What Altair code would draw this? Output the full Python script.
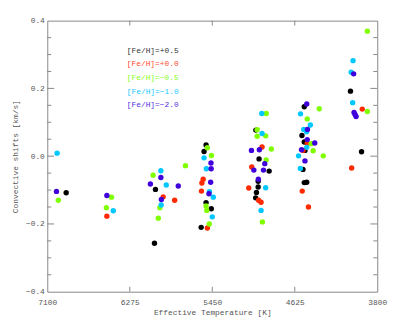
import altair as alt
import pandas as pd

# Effective temperature [K] and convective shift [km/s] per metallicity group
t_p05 = [6911, 6028, 6018, 5512, 5532, 5512, 5460, 5561, 5014, 4982, 4881, 4991, 4991, 5008, 5016,
         4530, 4553, 4530, 4523, 4543, 4530, 4505, 4068, 3957]
v_p05 = [-0.108, -0.257, -0.098, 0.033, 0.014, -0.137, -0.155, -0.210, 0.077, -0.008, -0.044, -0.074,
         -0.091, -0.107, -0.123, 0.146, 0.061, 0.042, 0.017, -0.039, -0.078, -0.077, 0.192, 0.013]

t_p00 = [6504, 5941, 5826, 5541, 5554, 5558, 5499, 4952, 5055, 5085, 4987, 4962, 4500, 4543, 4550,
         4488, 3950, 4056]
v_p00 = [-0.177, -0.120, -0.130, -0.068, -0.079, -0.103, -0.212, 0.027, -0.032, -0.094, -0.130,
         -0.136, 0.038, 0.017, -0.103, -0.150, 0.139, -0.035]

t_m05 = [6990, 6458, 6509, 6042, 5974, 5990, 5718, 5499, 5458, 5512, 5505, 5480, 4910, 5001, 5001,
         4916, 4859, 4911, 4949, 4380, 4500, 4461, 4441, 4340, 3899, 3899]
v_m05 = [-0.130, -0.121, -0.152, -0.056, -0.152, -0.183, -0.028, 0.025, 0.002, -0.147, -0.160,
         -0.200, 0.126, 0.078, 0.059, 0.060, 0.021, -0.011, -0.194, 0.140, 0.110, 0.037, 0.016,
         0.001, 0.369, 0.132]

t_m10 = [7002, 6440, 5964, 5910, 5961, 5532, 5509, 5478, 5440, 5450, 4955, 4952, 4916, 4962, 4567,
         4469, 4535, 4507, 4505, 4587, 4569, 4042, 4061, 4046]
v_m10 = [0.009, -0.161, -0.043, -0.085, -0.144, -0.005, -0.037, -0.105, -0.121, -0.179, 0.126,
         0.067, -0.093, -0.160, 0.125, 0.092, 0.079, 0.072, 0.026, 0.001, -0.036, 0.282, 0.248, 0.158]

t_m20 = [7008, 6504, 5964, 6069, 5790, 5959, 5463, 5461, 5466, 5483, 5058, 4979, 4925, 5034, 4938,
         4989, 4505, 4498, 4500, 4425, 4557, 4523, 4036, 4032, 4022, 4012]
v_m20 = [-0.104, -0.116, -0.063, -0.082, -0.088, -0.128, -0.020, -0.037, -0.077, -0.111, 0.017,
         0.019, -0.022, -0.041, -0.041, -0.068, 0.154, 0.079, 0.049, 0.039, 0.019, -0.014, 0.243,
         0.129, 0.123, 0.117]

groups = ["[Fe/H]=+0.5", "[Fe/H]=+0.0", "[Fe/H]=\u22120.5", "[Fe/H]=\u22121.0", "[Fe/H]=\u22122.0"]
colors = ["#000000", "#ff2a00", "#80ff00", "#00c8ff", "#4000dc"]
legend_colors = ["#333333", "#ff4a30", "#88ff20", "#20c8ff", "#5030e0"]

x_ticks = [7100, 6275, 5450, 4625, 3800]
x_inner_ticks = [6275, 5450, 4625]
y_major = [-0.4, -0.2, 0.0, 0.2, 0.4]
y_minor = [-0.35, -0.3, -0.25, -0.15, -0.1, -0.05, 0.05, 0.1, 0.15, 0.25, 0.3, 0.35]
legend_y = [0.311, 0.271, 0.231, 0.190, 0.150]

rows = []
for g, ts, vs in zip(groups, [t_p05, t_p00, t_m05, t_m10, t_m20],
                     [v_p05, v_p00, v_m05, v_m10, v_m20]):
    for t, v in zip(ts, vs):
        rows.append({"T": t, "v": v, "g": g})
df = pd.DataFrame(rows)

FONT = "Liberation Mono"
GRAY = "#555555"
TICK = "#888888"

xscale = alt.Scale(domain=[3800, 7100], reverse=True, nice=False, zero=False)
yscale = alt.Scale(domain=[-0.4, 0.4], nice=False, zero=False)

points = alt.Chart(df).mark_circle(size=30, opacity=1).encode(
    x=alt.X("T:Q", scale=xscale,
            axis=alt.Axis(values=x_ticks, format="d", ticks=False, domain=False, grid=False,
                          labelFont=FONT, labelFontSize=8, labelColor=GRAY, labelPadding=7,
                          labelFlush=False, title="Effective Temperature [K]", titleFont=FONT,
                          titleFontSize=8, titleFontWeight="normal", titleColor=GRAY,
                          titlePadding=2)),
    y=alt.Y("v:Q", scale=yscale,
            axis=alt.Axis(values=y_major, format=".1f", ticks=False, domain=False, grid=False,
                          labelFont=FONT, labelFontSize=8, labelColor=GRAY, labelPadding=3,
                          labelFlush=False, title="Convective shifts [km/s]", titleFont=FONT,
                          titleFontSize=8, titleFontWeight="normal", titleColor=GRAY,
                          titlePadding=6)),
    color=alt.Color("g:N", scale=alt.Scale(domain=groups, range=colors), legend=None),
)

ymaj = pd.DataFrame({"v": y_major[1:-1]})
ymin = pd.DataFrame({"v": y_minor})
xin = pd.DataFrame({"T": x_inner_ticks})

def yticks(d, x0, x1):
    return alt.Chart(d).mark_rule(color=TICK, strokeWidth=1).encode(
        y=alt.Y("v:Q", scale=yscale), x=alt.value(x0), x2=alt.value(x1))

def xticks(d, y0, y1):
    return alt.Chart(d).mark_rule(color=TICK, strokeWidth=1).encode(
        x=alt.X("T:Q", scale=xscale), y=alt.value(y0), y2=alt.value(y1))

W, H = 336, 276
ticks = [
    yticks(ymaj, 0, 7), yticks(ymin, 0, 4),
    yticks(ymaj, W, W - 7), yticks(ymin, W, W - 4),
    xticks(xin, 0, 5), xticks(xin, H, H - 5),
]

leg = pd.DataFrame({"label": groups, "ly": legend_y, "c": legend_colors})
legend = alt.Chart(leg).mark_text(align="left", baseline="middle", font=FONT, fontSize=8).encode(
    x=alt.value(81), y=alt.Y("ly:Q", scale=yscale),
    text="label:N", color=alt.Color("c:N", scale=None),
)

chart = alt.layer(*ticks, points, legend).properties(
    width=W, height=H,
    autosize=alt.AutoSizeParams(type="none"),
    padding={"left": 40, "top": 10, "right": 14, "bottom": 30},
).configure_view(stroke=TICK, strokeWidth=1)

chart.save("out.html", embed_options={"renderer": "svg", "actions": False})
